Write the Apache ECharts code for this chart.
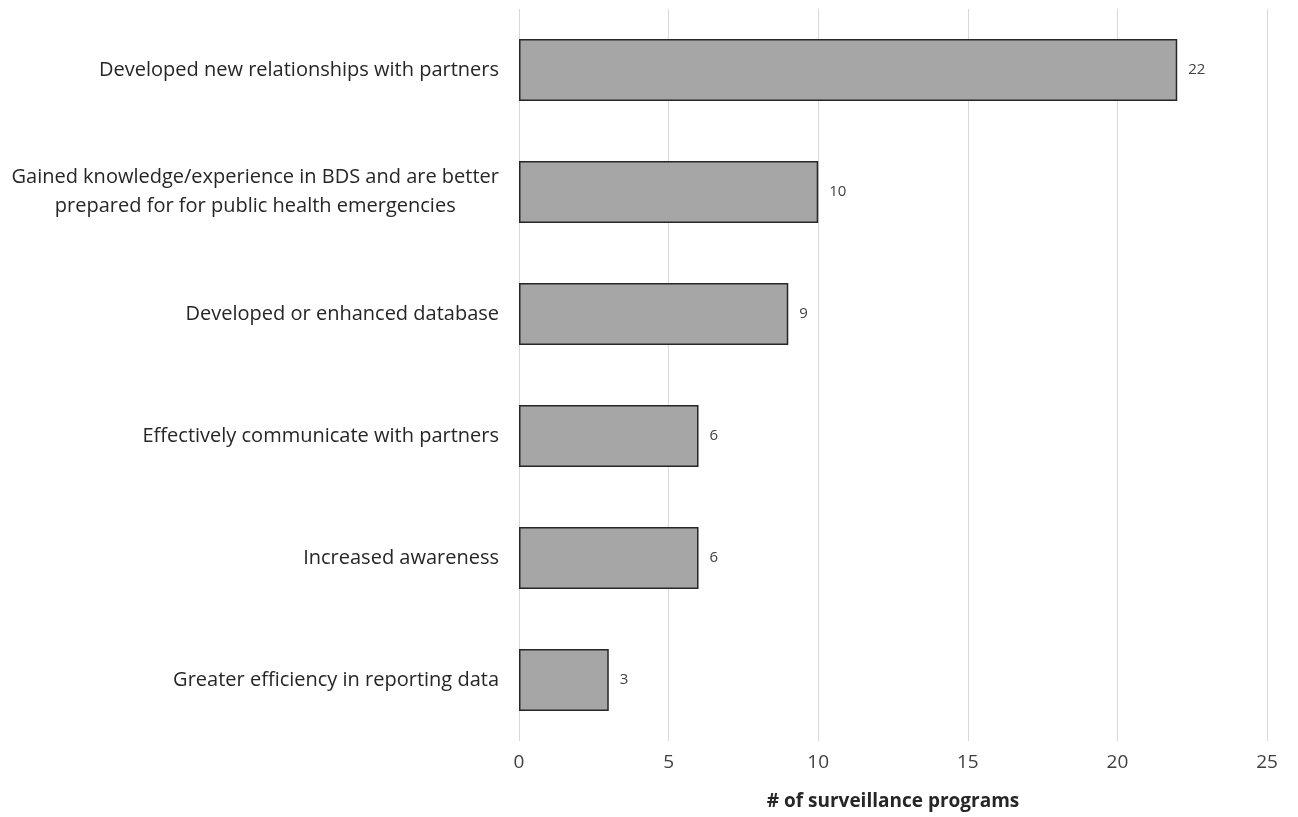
<!DOCTYPE html>
<html>
<head>
<meta charset="utf-8">
<script src="https://cdn.jsdelivr.net/npm/echarts@6/dist/echarts.min.js"></script>
<style>
  html, body { margin: 0; padding: 0; background: #ffffff; }
  #chart { width: 1298px; height: 817px; }
</style>
</head>
<body>
<div id="chart"></div>
<script>
// Outcomes reported by surveillance programs (bottom to top on the axis)
const categories = [
  'Greater efficiency in reporting data',
  'Increased awareness',
  'Effectively communicate with partners',
  'Developed or enhanced database',
  'Gained knowledge/experience in BDS and are better\nprepared for for public health emergencies',
  'Developed new relationships with partners'
];
const programCounts = [3, 6, 6, 9, 10, 22];
const xTicks = [0, 5, 10, 15, 20, 25];
const axisTitle = '# of surveillance programs';

const FONT = '"Open Sans", sans-serif';

const chart = echarts.init(document.getElementById('chart'), null, { renderer: 'canvas' });

chart.setOption({
  backgroundColor: '#ffffff',
  animation: false,
  grid: { left: 519, right: 31, top: 9, bottom: 76, containLabel: false },
  xAxis: {
    type: 'value',
    min: xTicks[0],
    max: xTicks[xTicks.length - 1],
    interval: 5,
    axisLine: { show: false },
    axisTick: { show: false },
    splitLine: { show: true, lineStyle: { color: '#d9d9d9', width: 1 } },
    axisLabel: { fontFamily: FONT, fontSize: 19, color: '#404040', margin: 12 },
    name: axisTitle,
    nameLocation: 'middle',
    nameGap: 51,
    nameTextStyle: { fontFamily: FONT, fontSize: 19, fontWeight: 'bold', color: '#262626' }
  },
  yAxis: {
    type: 'category',
    data: categories,
    axisLine: { show: false },
    axisTick: { show: false },
    splitLine: { show: false },
    axisLabel: {
      margin: 20,
      formatter: function (v) {
        return v.split('\n').map(function (line) { return '{c|' + line + '}'; }).join('\n');
      },
      rich: {
        c: { align: 'center', fontFamily: FONT, fontSize: 20, color: '#262626', lineHeight: 29 }
      }
    }
  },
  series: [{
    type: 'bar',
    data: programCounts,
    barWidth: '51%',
    itemStyle: { color: '#a6a6a6', borderColor: '#262626', borderWidth: 1.5 },
    label: {
      show: true,
      position: 'right',
      distance: 11,
      fontFamily: FONT,
      fontSize: 15,
      color: '#404040'
    }
  }]
});
</script>
</body>
</html>
